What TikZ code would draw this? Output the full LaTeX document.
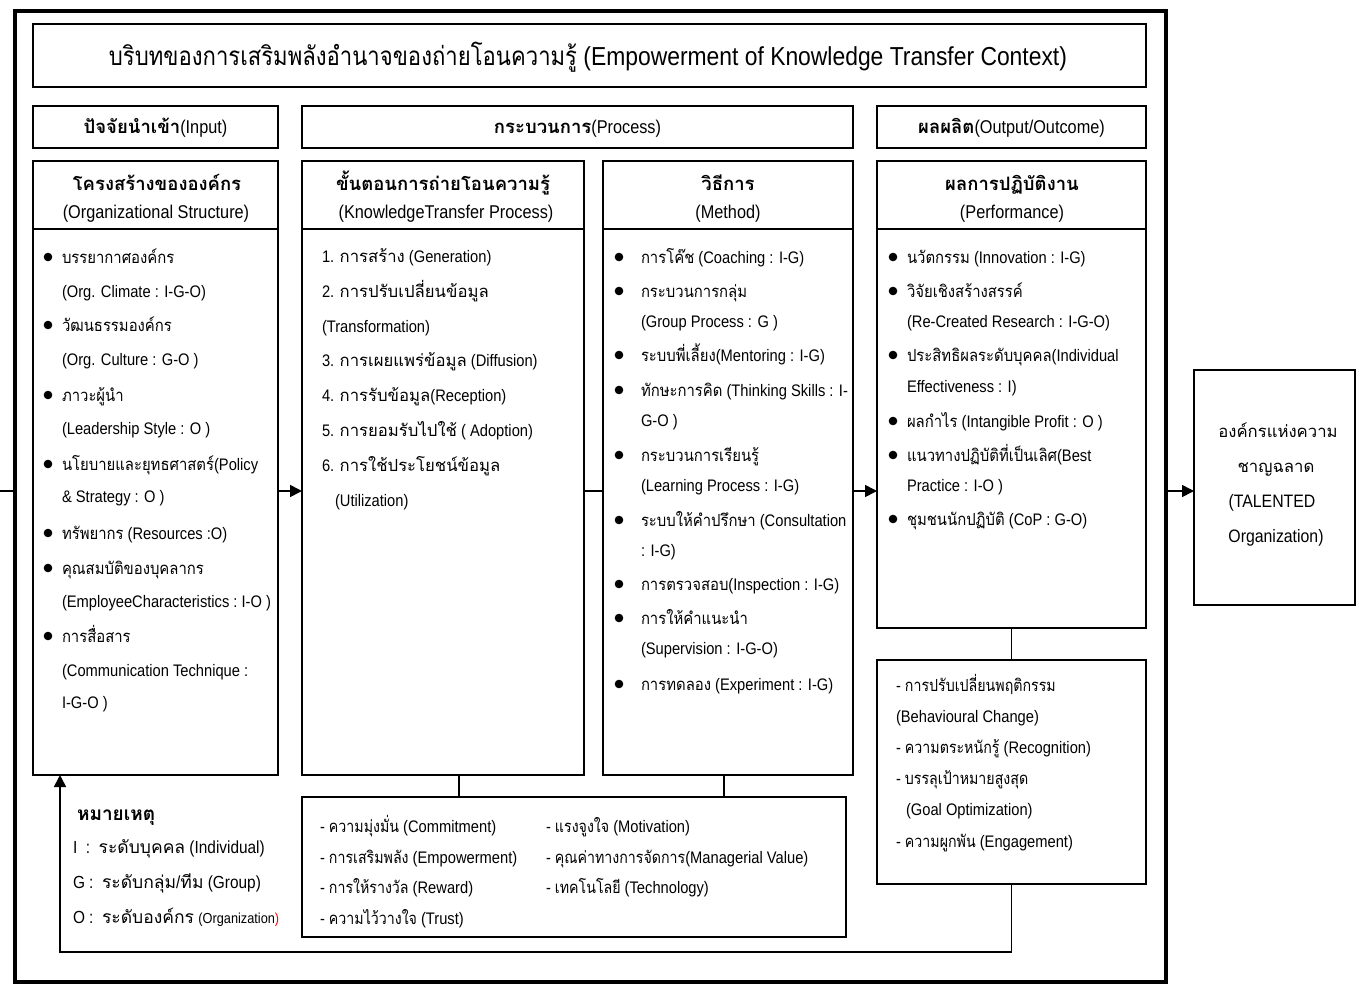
\documentclass[tikz,border=0pt]{standalone}
\usepackage{fontspec}
\setmainfont{Liberation Sans}[FakeStretch=0.88]
\newfontfamily\thaifont{Loma}[Script=Thai]
\newfontfamily\thainarrow{Loma}[Script=Thai, FakeStretch=0.89]
\newfontfamily\thaicond{Loma}[Script=Thai, FakeStretch=0.85]
\usetikzlibrary{arrows.meta,fit}

% Thai characters switch to the Thai family automatically;
% \thaiswitch chooses which Thai family is used
\newcommand\thaiswitch{\thaifont}
\XeTeXinterchartokenstate=1
\chardef\thaicls=7
\count255="0E00
\loop
  \XeTeXcharclass\count255=\thaicls
  \ifnum\count255<"0E7F \advance\count255 by 1
\repeat
\XeTeXinterchartoks 0 \thaicls = {\thaiswitch}
\XeTeXinterchartoks 1 \thaicls = {\thaiswitch}
\XeTeXinterchartoks 2 \thaicls = {\thaiswitch}
\XeTeXinterchartoks 3 \thaicls = {\thaiswitch}
\XeTeXinterchartoks 4095 \thaicls = {\thaiswitch}
\XeTeXinterchartoks \thaicls 0 = {\rmfamily}
\XeTeXinterchartoks \thaicls 1 = {\rmfamily}
\XeTeXinterchartoks \thaicls 2 = {\rmfamily}
\XeTeXinterchartoks \thaicls 3 = {\rmfamily}
\XeTeXinterchartoks \thaicls 4095 = {\rmfamily}

\newcommand\fstitle{\fontsize{26}{30}\selectfont}
\newcommand\fshead{\fontsize{18.5}{22}\selectfont}
\newcommand\fsbody{\fontsize{16.7}{20}\selectfont}

\tikzset{
  box/.style={draw, line width=1.6pt, inner sep=0pt, outer sep=0pt},
  txt/.style={inner sep=0pt, outer sep=0pt, anchor=west, text height=12pt, text depth=0pt, font=\fsbody},
  txtn/.style={txt, font=\fsbody\let\thaiswitch\thainarrow},
  txtc/.style={txt, font=\fsbody\let\thaiswitch\thaicond},
  txtl/.style={txt, text height=12.5pt, font=\fontsize{17.5}{21}\selectfont},
  ctxt/.style={inner sep=0pt, outer sep=0pt, text height=12pt, text depth=0pt, font=\fsbody},
  head/.style={inner sep=0pt, outer sep=0pt, text height=13.3pt, text depth=0pt, font=\fshead},
  conn/.style={line width=1.6pt},
  arr/.style={conn, -{Triangle[length=12pt,width=12pt]}},
}
% bullet at x=#3 followed by a text line starting at x=#4
\newcommand\bitem[6]{%
  \fill (#3,#5) circle (4.3pt);
  \node[#1] (#2) at (#4,#5) {#6};}

\begin{document}
\begin{tikzpicture}[x=1pt,y=-1pt]
\useasboundingbox (0,0) rectangle (1361,985);

% ---------- frames ----------
\node[box, line width=4.5pt, fit={(15,11) (1166,982)}] (frame) {};
\node[box, line width=2.2pt, fit={(33,24) (1146,87)}] (title) {};
\node[box, fit={(33,106) (278,148)}] (hin) {};
\node[box, fit={(302,106) (853,148)}] (hpr) {};
\node[box, fit={(877,106) (1146,148)}] (hout) {};
\node[box, fit={(33,161) (278,229)}] (sin) {};
\node[box, fit={(302,161) (584,229)}] (skt) {};
\node[box, fit={(603,161) (853,229)}] (smt) {};
\node[box, fit={(877,161) (1146,229)}] (spf) {};
\node[box, fit={(33,229) (278,775)}] (bin) {};
\node[box, fit={(302,229) (584,775)}] (bkt) {};
\node[box, fit={(603,229) (853,775)}] (bmt) {};
\node[box, fit={(877,229) (1146,628)}] (bpf) {};
\node[box, fit={(877,660) (1146,884)}] (blo) {};
\node[box, fit={(302,797) (846,937)}] (fac) {};
\node[box, fit={(1194,370) (1355,605)}] (tal) {};

% ---------- headings ----------
\node[inner sep=0pt, text height=18.7pt, text depth=0pt, font=\fstitle\let\thaiswitch\thaicond] (ttl) at (588,56)
  {บริบทของการเสริมพลังอำนาจของถ่ายโอนความรู้ (Empowerment of Knowledge Transfer Context)};
\node[head] (hint) at (hin.center) {{\bfseries ปัจจัยนำเข้า}(Input)};
\node[head] (hprt) at (hpr.center) {{\bfseries กระบวนการ}(Process)};
\node[head] (houtt) at (hout.center) {{\bfseries ผลผลิต}(Output/Outcome)};

\node[head] (sin1) at (157,184) {\bfseries โครงสร้างขององค์กร};
\node[head] (sin2) at (156,212) {(Organizational Structure)};
\node[head] (skt1) at (443,184) {\bfseries ขั้นตอนการถ่ายโอนความรู้};
\node[head] (skt2) at (446,212) {(KnowledgeTransfer Process)};
\node[head] (smt1) at (728,184) {\bfseries วิธีการ};
\node[head] (smt2) at (728,212) {(Method)};
\node[head] (spf1) at (1012,184) {\bfseries ผลการปฏิบัติงาน};
\node[head] (spf2) at (1012,212) {(Performance)};

% ---------- input: organizational structure ----------
\bitem{txtn}{i1}{48}{62}{257}{บรรยากาศองค์กร}
\node[txtn] (i2) at (62,291) {(Org. Climate : I-G-O)};
\bitem{txtn}{i3}{48}{62}{325}{วัฒนธรรมองค์กร}
\node[txtn] (i4) at (62,359) {(Org. Culture : G-O )};
\bitem{txtn}{i5}{48}{62}{395}{ภาวะผู้นำ}
\node[txtn] (i6) at (62,428) {(Leadership Style : O )};
\bitem{txtn}{i7}{48}{62}{464}{นโยบายและยุทธศาสตร์(Policy}
\node[txtn] (i8) at (62,496) {\& Strategy : O )};
\bitem{txtn}{i9}{48}{62}{533}{ทรัพยากร (Resources :O)}
\bitem{txtn}{i10}{48}{62}{568}{คุณสมบัติของบุคลากร}
\node[txtn] (i11) at (62,601) {(EmployeeCharacteristics :\ I-O )};
\bitem{txtn}{i12}{48}{62}{636}{การสื่อสาร}
\node[txtn] (i13) at (62,670) {(Communication Technique :};
\node[txtn] (i14) at (62,702) {I-G-O )};

% ---------- process: knowledge transfer steps ----------
\node[txt] (k1) at (322,256) {1. การสร้าง (Generation)};
\node[txt] (k2) at (322,291) {2. การปรับเปลี่ยนข้อมูล};
\node[txt] (k3) at (322,326) {(Transformation)};
\node[txt] (k4) at (322,360) {3. การเผยแพร่ข้อมูล (Diffusion)};
\node[txt] (k5) at (322,395) {4. การรับข้อมูล(Reception)};
\node[txt] (k6) at (322,430) {5. การยอมรับไปใช้ ( Adoption)};
\node[txt] (k7) at (322,465) {6. การใช้ประโยชน์ข้อมูล};
\node[txt] (k8) at (335,500) {(Utilization)};

% ---------- process: methods ----------
\bitem{txtn}{m1}{619}{641}{257}{การโค๊ช (Coaching : I-G)}
\bitem{txtn}{m2}{619}{641}{291}{กระบวนการกลุ่ม}
\node[txtn] (m3) at (641,321) {(Group Process : G )};
\bitem{txtn}{m4}{619}{641}{355}{ระบบพี่เลี้ยง(Mentoring : I-G)}
\bitem{txtn}{m5}{619}{641}{390}{ทักษะการคิด (Thinking Skills : I-}
\node[txtn] (m6) at (641,420) {G-O )};
\bitem{txtn}{m7}{619}{641}{455}{กระบวนการเรียนรู้}
\node[txtn] (m8) at (641,485) {(Learning Process : I-G)};
\bitem{txtn}{m9}{619}{641}{520}{ระบบให้คำปรึกษา (Consultation}
\node[txtn] (m10) at (641,550) {: I-G)};
\bitem{txtn}{m11}{619}{641}{584}{การตรวจสอบ(Inspection : I-G)}
\bitem{txtn}{m12}{619}{641}{618}{การให้คำแนะนำ}
\node[txtn] (m13) at (641,648) {(Supervision : I-G-O)};
\bitem{txtn}{m14}{619}{641}{684}{การทดลอง (Experiment : I-G)}

% ---------- output: performance ----------
\bitem{txtn}{p1}{893}{907}{257}{นวัตกรรม (Innovation : I-G)}
\bitem{txtn}{p2}{893}{907}{291}{วิจัยเชิงสร้างสรรค์}
\node[txtn] (p3) at (907,321) {(Re-Created Research : I-G-O)};
\bitem{txtn}{p4}{893}{907}{355}{ประสิทธิผลระดับบุคคล(Individual}
\node[txtn] (p5) at (907,386) {Effectiveness : I)};
\bitem{txtn}{p6}{893}{907}{421}{ผลกำไร (Intangible Profit : O )}
\bitem{txtn}{p7}{893}{907}{455}{แนวทางปฏิบัติที่เป็นเลิศ(Best}
\node[txtn] (p8) at (907,485) {Practice : I-O )};
\bitem{txtn}{p9}{893}{907}{519}{ชุมชนนักปฏิบัติ (CoP : G-O)}

% ---------- output: behavioural results ----------
\node[txtc] (l1) at (896,685) {- การปรับเปลี่ยนพฤติกรรม};
\node[txtc] (l2) at (896,716) {(Behavioural Change)};
\node[txtc] (l3) at (896,747) {- ความตระหนักรู้ (Recognition)};
\node[txtc] (l4) at (896,778) {- บรรลุเป้าหมายสูงสุด};
\node[txtc] (l5) at (906,809) {(Goal Optimization)};
\node[txtc] (l6) at (896,841) {- ความผูกพัน (Engagement)};

% ---------- supporting factors ----------
\node[txtc] (f1) at (320,826) {- ความมุ่งมั่น (Commitment)};
\node[txtc] (f2) at (320,857) {- การเสริมพลัง (Empowerment)};
\node[txtc] (f3) at (320,887) {- การให้รางวัล (Reward)};
\node[txtc] (f4) at (320,918) {- ความไว้วางใจ (Trust)};
\node[txtc] (f5) at (546,826) {- แรงจูงใจ (Motivation)};
\node[txtc] (f6) at (546,857) {- คุณค่าทางการจัดการ(Managerial Value)};
\node[txtc] (f7) at (546,887) {- เทคโนโลยี (Technology)};

% ---------- talented organization ----------
\node[ctxt] (t1) at (1278,431) {องค์กรแห่งความ};
\node[ctxt] (t2) at (1276,466) {ชาญฉลาด};
\node[ctxt, font=\fontsize{18}{22}\selectfont] (t3) at (1272,501) {(TALENTED};
\node[ctxt, font=\fontsize{18}{22}\selectfont] (t4) at (1276,536) {Organization)};

% ---------- legend ----------
\node[txt, text height=13pt, font=\fontsize{19}{23}\selectfont\bfseries] (lg0) at (77,814) {หมายเหตุ};
\node[txtl] (lg1) at (73,847) {I\ \ :\ \ ระดับบุคคล (Individual)};
\node[txtl] (lg2) at (73,882) {G :\ \ ระดับกลุ่ม/ทีม (Group)};
\node[txtl] (lg3) at (73,917) {O :\ \ ระดับองค์กร {\fontsize{14.5}{18}\selectfont(Organization\textcolor{red}{)}}};

% ---------- connectors ----------
\coordinate (lane) at (0,491);
\draw[conn] (lane) -- (lane -| frame.west);
\draw[arr] (lane -| bin.east) -- (lane -| bkt.west);
\draw[conn] (lane -| bkt.east) -- (lane -| bmt.west);
\draw[arr] (lane -| bmt.east) -- (lane -| bpf.west);
\draw[arr] (lane -| frame.east) -- (lane -| tal.west);
\draw[conn] (bpf.south) -- (blo.north);
\coordinate (fb) at (60,952);
\draw[arr] (blo.south) |- (fb) -- (fb |- bin.south);
\draw[conn] ([xshift=16pt]bkt.south) -- ([xshift=16pt]bkt.south |- fac.north);
\draw[conn] ([xshift=-4pt]bmt.south) -- ([xshift=-4pt]bmt.south |- fac.north);
\end{tikzpicture}
\end{document}
